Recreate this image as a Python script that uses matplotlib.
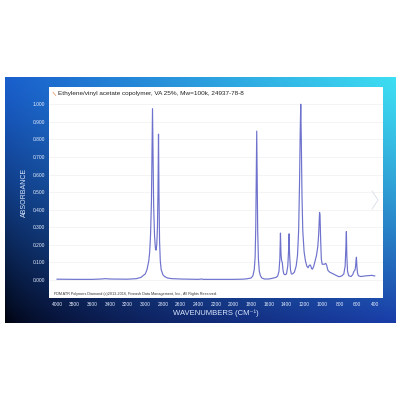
import matplotlib
matplotlib.use("Agg")
import matplotlib.pyplot as plt
import numpy as np

plt.rcParams['font.family'] = ['Liberation Sans', 'DejaVu Sans']

# spektar ocitan sa slike (valni broj, apsorbancija)
wavenumbers = [4000, 3800, 3600, 3500, 3450, 3400, 3200, 3100, 3050, 3000,
               2980, 2960, 2950, 2940, 2930, 2924, 2918, 2912, 2905, 2895,
               2885, 2878, 2870, 2862, 2856, 2850, 2845, 2838, 2830, 2820,
               2800, 2780, 2750, 2700, 2600, 2500, 2400, 2360, 2340, 2200,
               2100, 2000, 1900, 1850, 1800, 1780, 1765, 1755, 1748, 1742,
               1737, 1732, 1726, 1718, 1708, 1695, 1680, 1650, 1600, 1560,
               1520, 1500, 1485, 1475, 1468, 1462, 1455, 1447, 1440, 1430,
               1415, 1400, 1385, 1375, 1370, 1365, 1355, 1345, 1330, 1310,
               1290, 1275, 1262, 1252, 1244, 1238, 1232, 1224, 1215, 1200,
               1185, 1170, 1155, 1140, 1128, 1115, 1105, 1090, 1075, 1060,
               1045, 1035, 1025, 1020, 1012, 1005, 995, 970, 955, 945,
               930, 910, 890, 870, 850, 830, 810, 790, 770, 750,
               735, 727, 721, 716, 708, 695, 670, 650, 635, 625,
               618, 612, 607, 602, 595, 585, 560, 530, 500, 470,
               450, 430, 400]
absorbance = [0.005, 0.004, 0.004, 0.006, 0.008, 0.006, 0.005, 0.008, 0.015, 0.035,
              0.06, 0.11, 0.16, 0.26, 0.45, 0.70, 0.975, 0.70, 0.42, 0.25,
              0.18, 0.17, 0.20, 0.30, 0.50, 0.83, 0.50, 0.22, 0.11, 0.06,
              0.03, 0.02, 0.012, 0.008, 0.006, 0.005, 0.004, 0.006, 0.004, 0.004,
              0.004, 0.004, 0.005, 0.007, 0.012, 0.025, 0.06, 0.13, 0.30, 0.60,
              0.847, 0.60, 0.28, 0.12, 0.05, 0.025, 0.012, 0.006, 0.006, 0.01,
              0.015, 0.022, 0.05, 0.12, 0.267, 0.15, 0.11, 0.10, 0.06, 0.035,
              0.03, 0.035, 0.08, 0.18, 0.263, 0.15, 0.06, 0.035, 0.035, 0.045,
              0.08, 0.14, 0.28, 0.55, 0.85, 1.0, 0.80, 0.48, 0.28, 0.16,
              0.11, 0.08, 0.07, 0.085, 0.085, 0.065, 0.062, 0.08, 0.11, 0.14,
              0.19, 0.26, 0.385, 0.37, 0.22, 0.12, 0.09, 0.09, 0.095, 0.085,
              0.055, 0.045, 0.04, 0.035, 0.03, 0.025, 0.02, 0.02, 0.025, 0.035,
              0.08, 0.18, 0.276, 0.14, 0.05, 0.025, 0.02, 0.03, 0.05, 0.055,
              0.07, 0.11, 0.13, 0.08, 0.04, 0.025, 0.02, 0.022, 0.024, 0.025,
              0.026, 0.027, 0.023]

x_ticks = [4000, 3800, 3600, 3400, 3200, 3000, 2800, 2600, 2400, 2200,
           2000, 1800, 1600, 1400, 1200, 1000, 800, 600, 400]
y_ticks = [0.0, 0.1, 0.2, 0.3, 0.4, 0.5, 0.6, 0.7, 0.8, 0.9, 1.0]

naslov = "Ethylene/vinyl acetate copolymer, VA 25%, Mw=100k, 24937-78-8"
podnozje = "FDM ATR Polymers Diamond (c)2013-2016, Fiveash Data Management, Inc., All Rights Reserved."

fig = plt.figure(figsize=(4, 4), dpi=100)
fig.patch.set_facecolor("white")

# plava pozadina s gradijentom
bg = fig.add_axes([5/400, 1-323/400, 391/400, 246/400])
h, w = 120, 200
u = np.linspace(0, 1, w)[None, :, None]
v = np.linspace(0, 1, h)[:, None, None]
tl = np.array([0.10, 0.37, 0.80])
tr = np.array([0.24, 0.87, 0.95])
bl = np.array([0.00, 0.01, 0.05])
br = np.array([0.10, 0.24, 0.66])
top = tl*(1-u) + tr*u
bot = bl*(1-u**0.6) + br*u**0.6
img = top*(1-v**1.2) + bot*v**1.2
bg.imshow(img, aspect="auto", extent=[0, 1, 0, 1])
bg.axis("off")

ax = fig.add_axes([49/400, 1-298/400, 334/400, 211/400])
ax.set_facecolor("white")
ax.plot(wavenumbers, absorbance, color="#6e72cc", lw=0.85)
ax.set_xlim(4091, 306)
ax.set_ylim(-0.102, 1.098)
ax.set_xticks(x_ticks)
ax.set_xticklabels([str(t) for t in x_ticks])
ax.set_yticks(y_ticks)
ax.set_yticklabels([f"{t:.3f}" for t in y_ticks])
ax.tick_params(length=0, labelsize=3.5, colors="#e6eeff", pad=3)
ax.grid(axis="y", color="#f0f0f0", lw=0.5)
ax.set_axisbelow(True)
for s in ax.spines.values():
    s.set_visible(False)

ax.set_xlabel("WAVENUMBERS (CM\u207b\u00b9)", fontsize=5.5, color="#dce8ff", labelpad=2)
ax.set_ylabel("ABSORBANCE", fontsize=5, color="#dce8ff", labelpad=3)

ax.text(0.027, 0.97, naslov, transform=ax.transAxes, fontsize=4.6, color="#222222",
        va="center", ha="left")
ax.plot([0.012, 0.02], [0.975, 0.96], transform=ax.transAxes, color="#e8a070", lw=0.6)
ax.text(0.015, 0.02, podnozje, transform=ax.transAxes, fontsize=2.7, color="#333333",
        va="center", ha="left")

# strelica desno
fig.lines.append(plt.Line2D([372/400, 378/400, 372/400], [1-191/400, 1-200/400, 1-209/400],
                            transform=fig.transFigure, color="#d8dde8", lw=0.6))

fig.savefig("out.png", dpi=100)
